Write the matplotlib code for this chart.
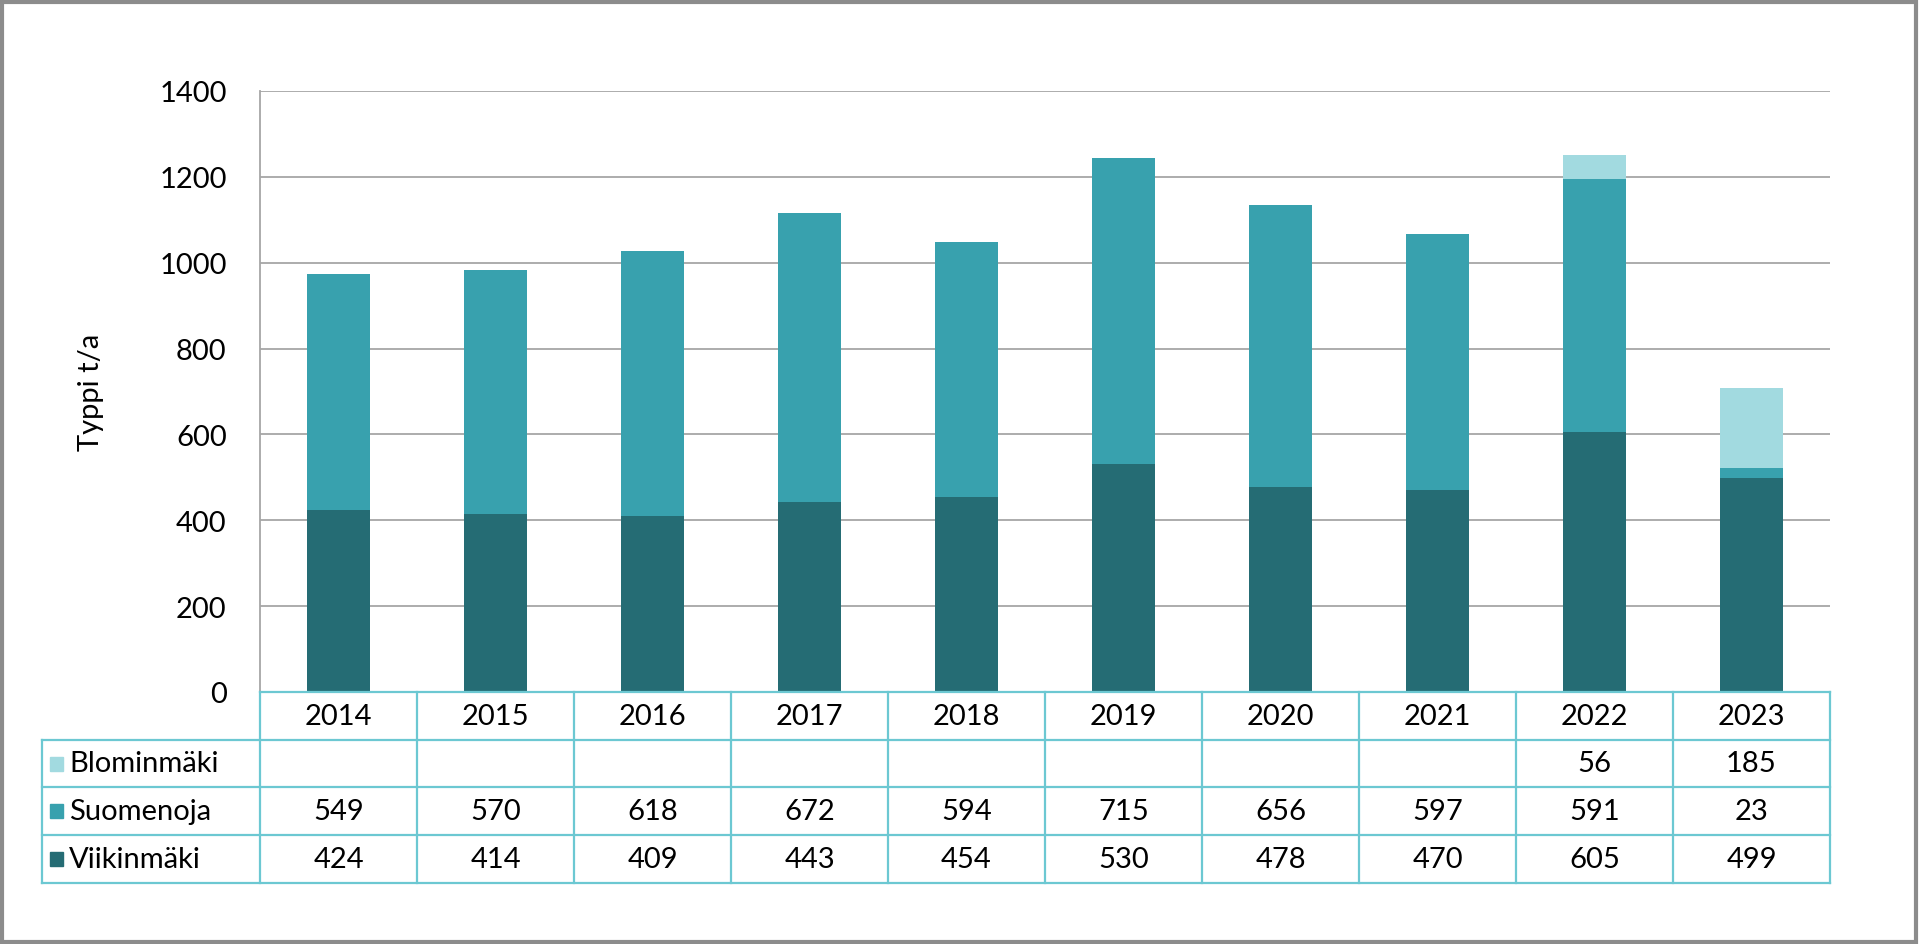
import matplotlib.pyplot as plt
from matplotlib.lines import Line2D
from matplotlib.patches import Rectangle

plt.rcParams['font.family'] = ['Lato', 'DejaVu Sans']

years = ['2014', '2015', '2016', '2017', '2018', '2019', '2020', '2021', '2022', '2023']
viikinmaki = [424, 414, 409, 443, 454, 530, 478, 470, 605, 499]
suomenoja = [549, 570, 618, 672, 594, 715, 656, 597, 591, 23]
blominmaki = [0, 0, 0, 0, 0, 0, 0, 0, 56, 185]
series_names = ['Blominmäki', 'Suomenoja', 'Viikinmäki']

c_dark = '#256c74'
c_mid = '#38a1ae'
c_light = '#a2dae0'
c_table = '#6cc8d2'
fs = 21

W, H = 1920, 945
fig = plt.figure(figsize=(19.2, 9.45), dpi=100)

# plot area in pixels
left_px, right_px, top_px, zero_px = 260, 1830, 92, 693
ax = fig.add_axes([left_px / W, 1 - zero_px / H, (right_px - left_px) / W, (zero_px - top_px) / H])

x = range(len(years))
bottom2 = [a + b for a, b in zip(viikinmaki, suomenoja)]
ax.bar(x, viikinmaki, width=0.4, color=c_dark, zorder=3)
ax.bar(x, suomenoja, width=0.4, bottom=viikinmaki, color=c_mid, zorder=3)
ax.bar(x, blominmaki, width=0.4, bottom=bottom2, color=c_light, zorder=3)

ax.set_xlim(-0.5, len(years) - 0.5)
ax.set_ylim(0, 1400)
ax.set_yticks(range(0, 1401, 200))
ax.yaxis.grid(True, color='#a6a6a6', linewidth=1.3, zorder=0)
ax.set_xticks([])
ax.tick_params(axis='y', length=0, labelsize=fs, pad=24)
for s in ['top', 'right', 'bottom']:
    ax.spines[s].set_visible(False)
ax.spines['left'].set_color('#a6a6a6')
ax.spines['left'].set_linewidth(1.3)
ax.set_ylabel('Typpi t/a', fontsize=fs, labelpad=40)

# data table below the plot
rows_px = [693, 741, 788, 836, 884]
col_w = (right_px - left_px) / len(years)
table_left = 42


def fx(px):
    return px / W


def fy(py):
    return 1 - py / H


def hline(x0, x1, y):
    fig.add_artist(Line2D([fx(x0), fx(x1)], [fy(y), fy(y)], color=c_table, lw=1.6))


def vline(xp, y0, y1):
    fig.add_artist(Line2D([fx(xp), fx(xp)], [fy(y0), fy(y1)], color=c_table, lw=1.6))


hline(left_px, right_px, rows_px[0])
for y in rows_px[1:]:
    hline(table_left, right_px, y)
for k in range(len(years) + 1):
    vline(left_px + k * col_w, rows_px[0], rows_px[-1])
vline(table_left, rows_px[1], rows_px[-1])

for k, yr in enumerate(years):
    fig.text(fx(left_px + (k + 0.5) * col_w), fy((rows_px[0] + rows_px[1]) / 2), yr,
             ha='center', va='center', fontsize=fs)

row_data = [blominmaki, suomenoja, viikinmaki]
row_colors = [c_light, c_mid, c_dark]
for r in range(3):
    yc = (rows_px[r + 1] + rows_px[r + 2]) / 2
    fig.add_artist(Rectangle((fx(50), fy(yc + 7)), 13 / W, 14 / H, color=row_colors[r]))
    fig.text(fx(69), fy(yc), series_names[r], ha='left', va='center', fontsize=fs)
    for k, v in enumerate(row_data[r]):
        if v:
            fig.text(fx(left_px + (k + 0.5) * col_w), fy(yc), str(v),
                     ha='center', va='center', fontsize=fs)

# outer frame
fig.add_artist(Rectangle((0.001, 0.002), 0.997, 0.995, fill=False, edgecolor='#8c8c8c', lw=3))

fig.savefig('out.png', dpi=100)
